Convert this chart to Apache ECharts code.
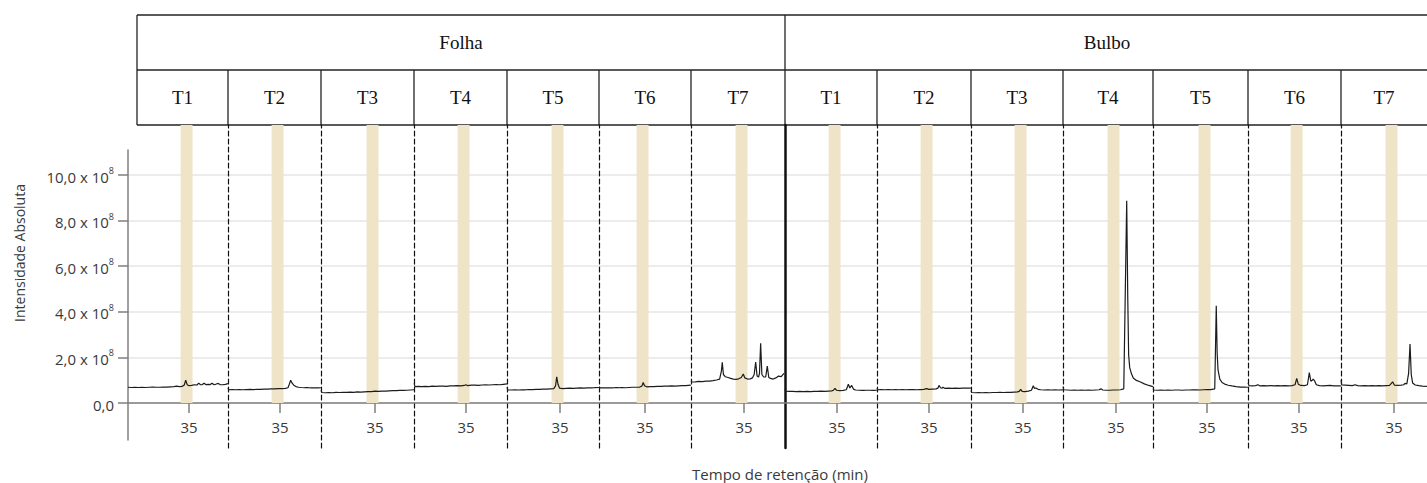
<!DOCTYPE html>
<html>
<head>
<meta charset="utf-8">
<script src="https://cdn.jsdelivr.net/npm/echarts@6/dist/echarts.min.js"></script>
<style>
  html, body { margin: 0; padding: 0; background: #fff; }
  #chart { width: 1427px; height: 483px; }
</style>
</head>
<body>
<div id="chart"></div>
<script>
// ---- data -------------------------------------------------------------
const tissues = ['Folha', 'Bulbo'];
const treatments = ['T1', 'T2', 'T3', 'T4', 'T5', 'T6', 'T7'];

// intensity ticks, in units of 10^8
const yTicks = [0, 2, 4, 6, 8, 10];
// retention-time tick shown under every panel (min)
const xTicks = [35];
// highlighted retention window (min)
const highlightWindow = [34.05, 35.4];

// chromatograms: [retention time (min), absolute intensity (x 10^8)]
const folhaT1 = [[28.12,0.69],[28.5,0.68],[28.9,0.69],[29.3,0.68],[29.7,0.69],[30.1,0.68],[30.5,0.69],[30.9,0.70],[31.3,0.69],[31.7,0.69],[32.1,0.70],[32.5,0.70],[32.9,0.71],[33.3,0.72],[33.6,0.74],[33.9,0.72],[34.2,0.73],[34.45,0.78],[34.63,1.00],[34.8,0.80],[35.0,0.76],[35.3,0.77],[35.6,0.80],[35.9,0.79],[36.1,0.87],[36.3,0.80],[36.5,0.81],[36.7,0.87],[36.9,0.81],[37.2,0.82],[37.4,0.81],[37.6,0.87],[37.8,0.81],[38.0,0.82],[38.3,0.86],[38.5,0.81],[38.8,0.80],[39.1,0.82],[39.4,0.85]];
const folhaT2 = [[29.14,0.66],[29.2,0.58],[29.6,0.59],[30.0,0.58],[30.4,0.59],[30.8,0.58],[31.2,0.59],[31.6,0.60],[32.0,0.59],[32.4,0.60],[32.8,0.60],[33.2,0.61],[33.6,0.61],[34.0,0.62],[34.4,0.62],[34.8,0.63],[35.2,0.63],[35.6,0.64],[35.9,0.67],[36.05,0.82],[36.2,1.00],[36.35,0.88],[36.55,0.78],[36.8,0.72],[37.1,0.69],[37.4,0.68],[37.8,0.67],[38.2,0.67],[38.6,0.66],[39.0,0.67],[39.3,0.66],[39.62,0.67]];
const folhaT3 = [[28.92,0.56],[29.0,0.46],[29.4,0.45],[29.8,0.46],[30.2,0.45],[30.6,0.47],[31.0,0.46],[31.4,0.47],[31.8,0.47],[32.2,0.48],[32.6,0.47],[33.0,0.49],[33.4,0.48],[33.8,0.49],[34.2,0.50],[34.6,0.50],[35.0,0.52],[35.4,0.51],[35.8,0.52],[36.2,0.52],[36.6,0.53],[37.0,0.54],[37.4,0.54],[37.8,0.55],[38.2,0.55],[38.6,0.56],[39.0,0.57],[39.4,0.58]];
const folhaT4 = [[29.14,0.86],[29.25,0.72],[29.6,0.73],[30.0,0.72],[30.4,0.73],[30.8,0.72],[31.2,0.74],[31.6,0.73],[32.0,0.74],[32.4,0.74],[32.8,0.73],[33.2,0.75],[33.6,0.75],[34.0,0.76],[34.4,0.75],[34.8,0.77],[35.0,0.80],[35.2,0.76],[35.6,0.78],[36.0,0.78],[36.4,0.77],[36.8,0.79],[37.2,0.80],[37.6,0.79],[38.0,0.80],[38.4,0.81],[38.8,0.80],[39.2,0.82],[39.62,0.84]];
const folhaT5 = [[29.03,0.70],[29.1,0.57],[29.5,0.57],[29.9,0.58],[30.3,0.57],[30.7,0.58],[31.1,0.58],[31.5,0.59],[31.9,0.59],[32.3,0.60],[32.7,0.60],[33.1,0.61],[33.5,0.61],[33.9,0.62],[34.3,0.63],[34.5,0.75],[34.63,1.15],[34.78,0.82],[34.95,0.65],[35.3,0.63],[35.7,0.64],[36.1,0.65],[36.5,0.64],[36.9,0.65],[37.3,0.66],[37.7,0.65],[38.1,0.66],[38.5,0.66],[38.9,0.67],[39.4,0.68]];
const folhaT6 = [[29.82,0.70],[30.0,0.66],[30.4,0.66],[30.8,0.67],[31.2,0.66],[31.6,0.67],[32.0,0.67],[32.4,0.68],[32.8,0.67],[33.2,0.68],[33.6,0.69],[34.0,0.69],[34.4,0.70],[34.65,0.74],[34.8,0.90],[34.95,0.76],[35.2,0.71],[35.6,0.72],[36.0,0.72],[36.4,0.73],[36.8,0.73],[37.2,0.74],[37.6,0.74],[38.0,0.75],[38.4,0.74],[38.8,0.75],[39.2,0.76],[39.6,0.76],[40.18,0.78]];
const folhaT7 = [[29.03,0.98],[29.1,0.92],[29.5,0.93],[29.9,0.95],[30.3,0.94],[30.7,0.96],[31.1,0.96],[31.5,0.98],[31.9,1.01],[32.25,1.05],[32.45,1.40],[32.55,1.78],[32.68,1.25],[32.9,1.15],[33.2,1.12],[33.5,1.08],[33.8,1.05],[34.1,1.04],[34.4,1.06],[34.7,1.12],[34.92,1.27],[35.1,1.10],[35.4,1.05],[35.7,1.06],[35.95,1.10],[36.15,1.25],[36.32,1.80],[36.48,1.18],[36.65,1.14],[36.75,1.30],[36.88,2.62],[37.02,1.25],[37.2,1.15],[37.45,1.14],[37.63,1.62],[37.8,1.12],[38.0,1.08],[38.3,1.05],[38.6,1.10],[38.9,1.18],[39.2,1.16],[39.51,1.30]];

const bulboT1 = [[29.14,0.62],[29.2,0.52],[29.6,0.51],[30.0,0.51],[30.4,0.50],[30.8,0.51],[31.2,0.50],[31.6,0.51],[32.0,0.50],[32.4,0.51],[32.8,0.51],[33.2,0.52],[33.6,0.51],[34.0,0.52],[34.4,0.53],[34.6,0.56],[34.77,0.64],[34.95,0.56],[35.3,0.54],[35.7,0.55],[36.05,0.58],[36.28,0.82],[36.45,0.66],[36.66,0.77],[36.85,0.61],[37.1,0.57],[37.5,0.56],[37.9,0.55],[38.3,0.56],[38.7,0.56],[39.1,0.55],[39.5,0.56]];
const bulboT2 = [[29.14,0.66],[29.2,0.58],[29.6,0.59],[30.0,0.58],[30.4,0.59],[30.8,0.58],[31.2,0.59],[31.6,0.58],[32.0,0.59],[32.4,0.58],[32.8,0.59],[33.2,0.59],[33.6,0.58],[34.0,0.59],[34.4,0.60],[34.74,0.63],[35.0,0.60],[35.4,0.61],[35.8,0.62],[36.0,0.65],[36.13,0.77],[36.3,0.67],[36.45,0.65],[36.58,0.69],[36.8,0.64],[37.2,0.65],[37.6,0.64],[38.0,0.65],[38.4,0.64],[38.8,0.65],[39.2,0.65],[39.73,0.65]];
const bulboT3 = [[29.14,0.55],[29.2,0.46],[29.6,0.45],[30.0,0.46],[30.4,0.45],[30.8,0.46],[31.2,0.45],[31.6,0.46],[32.0,0.46],[32.4,0.47],[32.8,0.46],[33.2,0.47],[33.6,0.47],[34.0,0.48],[34.4,0.49],[34.6,0.52],[34.74,0.60],[34.9,0.51],[35.2,0.50],[35.6,0.52],[35.95,0.56],[36.16,0.76],[36.3,0.64],[36.45,0.66],[36.7,0.60],[37.0,0.58],[37.4,0.57],[37.8,0.58],[38.2,0.57],[38.6,0.58],[39.0,0.57],[39.5,0.58]];
const bulboT4 = [[29.03,0.72],[29.1,0.58],[29.5,0.57],[29.9,0.56],[30.3,0.57],[30.7,0.56],[31.1,0.57],[31.5,0.56],[31.9,0.57],[32.3,0.56],[32.7,0.57],[33.1,0.58],[33.3,0.62],[33.5,0.57],[33.9,0.56],[34.3,0.56],[34.7,0.57],[35.1,0.57],[35.5,0.58],[35.88,0.62],[36.21,8.87],[36.33,4.6],[36.43,2.1],[36.55,1.55],[36.75,1.28],[36.95,1.10],[37.3,0.99],[37.7,0.93],[38.2,0.84],[38.7,0.77],[39.17,0.72]];
const bulboT5 = [[28.92,0.64],[29.0,0.57],[29.4,0.56],[29.8,0.57],[30.2,0.56],[30.6,0.57],[31.0,0.56],[31.4,0.57],[31.8,0.57],[32.2,0.56],[32.6,0.57],[33.0,0.57],[33.4,0.58],[33.8,0.58],[34.2,0.57],[34.6,0.58],[35.0,0.59],[35.4,0.59],[35.88,0.62],[36.05,4.27],[36.15,2.2],[36.25,1.45],[36.45,1.05],[36.7,0.90],[37.0,0.83],[37.4,0.78],[37.8,0.75],[38.3,0.72],[38.8,0.70],[39.2,0.70],[39.62,0.69]];
const bulboT6 = [[29.25,0.88],[29.35,0.76],[29.7,0.75],[30.1,0.76],[30.37,0.80],[30.6,0.75],[31.0,0.76],[31.4,0.75],[31.8,0.76],[32.2,0.75],[32.6,0.76],[33.0,0.75],[33.4,0.76],[33.8,0.75],[34.2,0.76],[34.55,0.80],[34.74,1.08],[34.92,0.82],[35.2,0.77],[35.6,0.76],[35.95,0.80],[36.16,1.33],[36.33,0.96],[36.5,1.00],[36.6,1.04],[36.75,0.98],[36.95,0.80],[37.3,0.76],[37.7,0.75],[38.1,0.76],[38.5,0.77],[38.9,0.75],[39.3,0.75],[39.73,0.75]];
const bulboT7 = [[29.03,1.00],[29.1,0.79],[29.5,0.78],[29.9,0.77],[30.3,0.76],[30.6,0.80],[30.9,0.76],[31.3,0.75],[31.7,0.76],[32.1,0.75],[32.5,0.76],[32.9,0.75],[33.3,0.76],[33.7,0.75],[34.1,0.76],[34.5,0.77],[34.85,0.93],[35.05,0.78],[35.4,0.77],[35.8,0.78],[36.1,0.80],[36.24,0.86],[36.45,0.84],[36.65,1.3],[36.81,2.59],[36.95,1.25],[37.1,0.88],[37.4,0.79],[37.8,0.76],[38.2,0.74],[38.72,0.73]];

// panels in drawing order: Folha T1..T7, then Bulbo T1..T7
const traces = [folhaT1, folhaT2, folhaT3, folhaT4, folhaT5, folhaT6, folhaT7,
                bulboT1, bulboT2, bulboT3, bulboT4, bulboT5, bulboT6, bulboT7];

// start of the retention-time window of each panel (min)
const windowStart = [28.115, 29.13, 28.91, 29.13, 29.02, 29.81, 29.02,
                     29.13, 29.13, 29.13, 29.02, 28.91, 29.24, 29.02];

// ---- layout -----------------------------------------------------------
const W = 1427, H = 483;
const panelEdges = [128, 228, 321, 414, 507, 599, 691, 785, 877, 971, 1063, 1153, 1248, 1341, 1427];
const PX_PER_MIN = 8.86;
const PX_PER_UNIT = 22.8;     // vertical pixels per 10^8
const ZERO_Y = 403;
const AXIS_TOP = 150, AXIS_BOTTOM = 440;   // main intensity axis
const PANEL_TOP = 125, PANEL_BOTTOM = 448; // panels and separators
const TABLE = { left: 137, right: 1429, top: 15, mid: 70, bottom: 125 };

const AXIS_GREY = '#7f7f7f';
const TEXT = '#3a3a3a';
const SANS = '"Open Sans", "Noto Sans", sans-serif';
const SERIF = '"Liberation Serif", "DejaVu Serif", serif';

const mainMin = -(AXIS_BOTTOM - ZERO_Y) / PX_PER_UNIT;
const mainMax = (ZERO_Y - AXIS_TOP) / PX_PER_UNIT;
const panelMin = -(PANEL_BOTTOM - ZERO_Y) / PX_PER_UNIT;
const panelMax = (ZERO_Y - PANEL_TOP) / PX_PER_UNIT;

const grids = [{ left: panelEdges[0], right: 0, top: AXIS_TOP, bottom: H - AXIS_BOTTOM }];
const xAxes = [{
  gridIndex: 0, type: 'value', min: 0, max: 1,
  axisLine: { show: true, onZero: true, lineStyle: { color: AXIS_GREY, width: 1.5 } },
  axisTick: { show: false }, axisLabel: { show: false }, splitLine: { show: false }
}];
const yAxes = [{
  gridIndex: 0, type: 'value', min: mainMin, max: mainMax,
  axisLine: { show: true, onZero: false, lineStyle: { color: AXIS_GREY, width: 1.5 } },
  axisTick: { show: true, length: 10, customValues: yTicks, lineStyle: { color: AXIS_GREY, width: 1.5 } },
  axisLabel: {
    customValues: yTicks, margin: 14,
    formatter: v => v === 0 ? '{m|0,0}' : '{m|' + v.toFixed(1).replace('.', ',') + ' x 10}{e|8}',
    rich: {
      m: { fontSize: 15, fontFamily: SANS, color: TEXT, lineHeight: 18, verticalAlign: 'bottom' },
      e: { fontSize: 9, fontFamily: SANS, color: TEXT, lineHeight: 10, verticalAlign: 'top' }
    }
  },
  splitLine: { show: true, lineStyle: { color: '#e6e6e6', width: 1.5 } }
}];
const series = [];

traces.forEach((trace, i) => {
  const left = panelEdges[i], right = panelEdges[i + 1];
  const g = i + 1;
  grids.push({ left: left, width: right - left, top: PANEL_TOP, bottom: H - PANEL_BOTTOM });
  // time axis sits on the zero-intensity line
  xAxes.push({
    gridIndex: g, type: 'value', position: 'bottom', offset: -(PANEL_BOTTOM - ZERO_Y),
    min: windowStart[i], max: windowStart[i] + (right - left) / PX_PER_MIN,
    axisLine: { show: false, onZero: false },
    axisTick: { show: true, length: 10, customValues: xTicks, lineStyle: { color: AXIS_GREY, width: 1.5 } },
    axisLabel: { customValues: xTicks, margin: 16, fontSize: 15, fontFamily: SANS, color: TEXT },
    splitLine: { show: false }
  });
  const boundary = i === 7;
  yAxes.push({
    gridIndex: g, type: 'value', min: panelMin, max: panelMax,
    axisLine: {
      show: i !== 0, onZero: false,
      lineStyle: { color: '#111', width: boundary ? 2.5 : 1.2, type: boundary ? 'solid' : [5, 3] }
    },
    axisTick: { show: false }, axisLabel: { show: false }, splitLine: { show: false }
  });
  series.push({
    type: 'line', xAxisIndex: g, yAxisIndex: g,
    data: trace, showSymbol: false, symbol: 'none', clip: true, animation: false,
    lineStyle: { color: '#1c1c1c', width: 1.2 },
    markArea: {
      silent: true,
      itemStyle: { color: '#efe4c8' },
      data: [[{ xAxis: highlightWindow[0], yAxis: 0 }, { xAxis: highlightWindow[1], yAxis: panelMax }]]
    }
  });
});

// ---- header table -----------------------------------------------------
const tableLine = { stroke: '#222', lineWidth: 1.3 };
const graphics = [];
const hLine = (x1, x2, y) => graphics.push({ type: 'line', shape: { x1, y1: y, x2, y2: y }, style: tableLine, silent: true });
const vLine = (x, y1, y2) => graphics.push({ type: 'line', shape: { x1: x, y1, x2: x, y2 }, style: tableLine, silent: true });

[TABLE.top, TABLE.mid, TABLE.bottom].forEach(y => hLine(TABLE.left, TABLE.right, y));
vLine(TABLE.left, TABLE.top, TABLE.bottom);
const groupSplit = panelEdges[treatments.length];
vLine(groupSplit, TABLE.top, TABLE.bottom);
panelEdges.slice(1, -1).forEach(x => { if (x !== groupSplit) vLine(x, TABLE.mid, TABLE.bottom); });

const groupBounds = [[TABLE.left, groupSplit], [groupSplit, TABLE.right]];
tissues.forEach((name, k) => {
  graphics.push({
    type: 'text', silent: true,
    x: (groupBounds[k][0] + groupBounds[k][1]) / 2, y: (TABLE.top + TABLE.mid) / 2,
    style: { text: name, font: '19px ' + SERIF, fill: '#111', align: 'center', verticalAlign: 'middle' }
  });
  treatments.forEach((t, j) => {
    const idx = k * treatments.length + j;
    const l = idx === 0 ? TABLE.left : panelEdges[idx];
    const r = panelEdges[idx + 1];
    graphics.push({
      type: 'text', silent: true,
      x: (l + r) / 2, y: (TABLE.mid + TABLE.bottom) / 2,
      style: { text: t, font: '19px ' + SERIF, fill: '#111', align: 'center', verticalAlign: 'middle' }
    });
  });
});

// axis titles
graphics.push({
  type: 'text', silent: true, x: 19, y: 253, rotation: Math.PI / 2,
  style: { text: 'Intensidade Absoluta', font: '14px ' + SANS, fill: TEXT, align: 'center', verticalAlign: 'middle' }
});
graphics.push({
  type: 'text', silent: true, x: 780, y: 474,
  style: { text: 'Tempo de retenção (min)', font: '15px ' + SANS, fill: TEXT, align: 'center', verticalAlign: 'middle' }
});

const chart = echarts.init(document.getElementById('chart'), null, { renderer: 'svg', width: W, height: H });
chart.setOption({
  animation: false,
  backgroundColor: '#fff',
  grid: grids,
  xAxis: xAxes,
  yAxis: yAxes,
  series: series,
  graphic: graphics
});
</script>
</body>
</html>
